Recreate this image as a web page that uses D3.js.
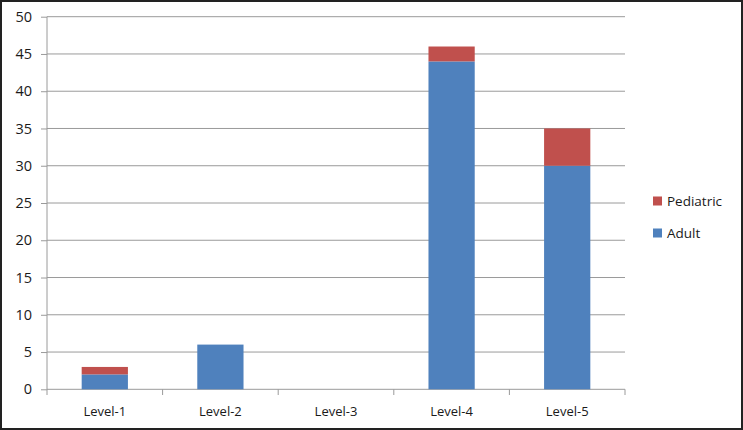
<!DOCTYPE html>
<html><head><meta charset="utf-8">
<script src="https://cdn.jsdelivr.net/npm/d3@7"></script>
<style>body{margin:0;background:#fff}svg{display:block}</style>
</head><body>
<script>
const categories = ["Level-1","Level-2","Level-3","Level-4","Level-5"];
const adult = [2, 6, 0, 44, 30];
const pediatric = [1, 0, 0, 2, 5];
const yTicks = [0,5,10,15,20,25,30,35,40,45,50];
const seriesNames = ["Pediatric","Adult"];
const colors = {Adult:"#4F81BD", Pediatric:"#C0504D"};

const W=743,H=430;
const svg=d3.select("body").append("svg").attr("width",W).attr("height",H);
svg.append("rect").attr("x",1).attr("y",1).attr("width",W-2).attr("height",H-2)
  .attr("fill","#fff").attr("stroke","#222").attr("stroke-width",2);

const x=d3.scaleBand().domain(categories).range([47,625]).paddingInner(0.6).paddingOuter(0.3);
const y=d3.scaleLinear().domain([0,50]).range([389.3,16.7]);
const font="'Open Sans', 'DejaVu Sans', sans-serif";

// gridlines
svg.append("g").selectAll("line").data(yTicks.filter(d=>d>0)).join("line")
  .attr("x1",47).attr("x2",625).attr("y1",d=>y(d)).attr("y2",d=>y(d))
  .attr("stroke","#9a9a9a").attr("stroke-width",1);

// y axis
const ya=svg.append("g").attr("transform","translate(47,0)")
  .call(d3.axisLeft(y).tickValues(yTicks).tickSize(6).tickPadding(9));
ya.select(".domain").attr("stroke","#9a9a9a").attr("d","M0,16.7V389.3");
ya.selectAll(".tick line").attr("stroke","#9a9a9a");
ya.selectAll("text").attr("font-family",font).attr("font-size",14.5).attr("fill","#1a1a1a");

// x axis
const xa=svg.append("g").attr("transform","translate(0,389.3)")
  .call(d3.axisBottom(x).tickSize(0).tickPadding(17));
xa.select(".domain").attr("stroke","#9a9a9a").attr("d","M47,0H625");
xa.selectAll("text").attr("font-family",font).attr("font-size",13).attr("fill","#1a1a1a");
// category boundary ticks
svg.append("g").selectAll("line").data(d3.range(categories.length+1)).join("line")
  .attr("x1",i=>47+i*(578/categories.length)).attr("x2",i=>47+i*(578/categories.length))
  .attr("y1",389.3).attr("y2",395).attr("stroke","#9a9a9a");

// stacked bars
const data=categories.map((c,i)=>({cat:c,Adult:adult[i],Pediatric:pediatric[i]}));
const stack=d3.stack().keys(["Adult","Pediatric"])(data);
svg.append("g").selectAll("g").data(stack).join("g").attr("fill",d=>colors[d.key])
  .selectAll("rect").data(d=>d).join("rect")
  .attr("x",d=>x(d.data.cat)).attr("width",x.bandwidth())
  .attr("y",d=>y(d[1])).attr("height",d=>y(d[0])-y(d[1]));

// legend
const lg=svg.append("g").selectAll("g").data(seriesNames).join("g")
  .attr("transform",(d,i)=>`translate(653,${196.5+i*32})`);
lg.append("rect").attr("width",9).attr("height",9).attr("fill",d=>colors[d]);
lg.append("text").attr("x",14).attr("y",9.5).text(d=>d)
  .attr("font-family",font).attr("font-size",13.5).attr("fill","#1a1a1a");
</script>
</body></html>
